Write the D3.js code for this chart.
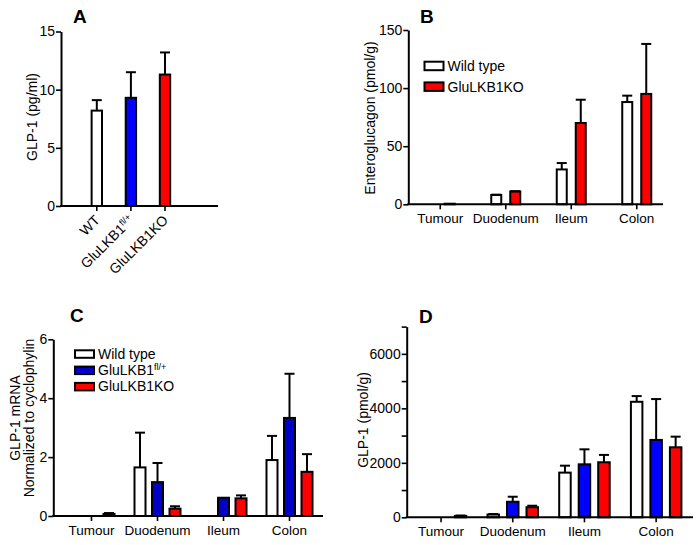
<!DOCTYPE html>
<html><head><meta charset="utf-8">
<script src="https://cdn.jsdelivr.net/npm/d3@7"></script>
<style>body{margin:0;background:#fff}</style>
</head><body>
<svg id="chart" width="700" height="545" xmlns="http://www.w3.org/2000/svg"></svg>
<script>
// ---------- DATA ----------
const groupsA = ["WT", "GluLKB1fl/+", "GluLKB1KO"];
const meanA = [8.2, 9.3, 11.3];
const semA = [0.9, 2.2, 1.9];
const ticksA = [0, 5, 10, 15];

const tissues = ["Tumour", "Duodenum", "Ileum", "Colon"];

const seriesB = ["Wild type", "GluLKB1KO"];
const wtB = [0, 8, 30, 88];
const wtBsem = [0, 0.3, 5.5, 5.5];
const koB = [0.5, 11, 70, 95];
const koBsem = [0, 0.3, 20, 43];
const ticksB = [0, 50, 100, 150];

const seriesC = ["Wild type", "GluLKB1fl/+", "GluLKB1KO"];
const wtC = [0, 1.65, 0, 1.9];
const wtCsem = [0, 1.18, 0, 0.82];
const flC = [0, 1.15, 0.62, 3.33];
const flCsem = [0, 0.65, 0, 1.5];
const koC = [0.07, 0.25, 0.6, 1.5];
const koCsem = [0.03, 0.08, 0.1, 0.6];
const ticksC = [0, 2, 4, 6];

const wtD = [0, 100, 1640, 4240];
const wtDsem = [0, 20, 255, 210];
const flD = [0, 570, 1945, 2840];
const flDsem = [0, 185, 550, 1500];
const koD = [50, 370, 2020, 2570];
const koDsem = [15, 55, 270, 390];
const ticksD = [0, 1000, 2000, 3000, 4000, 5000, 6000, 7000];
const labelsD = [0, 2000, 4000, 6000];

// ---------- STYLE ----------
const FONT = "'Liberation Sans', Arial, sans-serif";
const WHITE = "#ffffff", BLUE = "#0000ff", DBLUE = "#0000c8", RED = "#ff0000";

const svg = d3.select("#chart");
svg.append("rect").attr("width", 700).attr("height", 545).attr("fill", "#fff");

function yAxis(g, y, x0, ticks, labels) {
  const ax = d3.axisLeft(y).tickValues(ticks).tickSize(5).tickSizeOuter(0).tickPadding(1)
    .tickFormat(d => (labels ? (labels.includes(d) ? d : "") : d));
  const a = g.append("g").attr("transform", `translate(${x0},0)`).call(ax);
  a.select(".domain").attr("stroke-width", 2).attr("stroke", "#000");
  a.selectAll(".tick line").attr("stroke-width", 1.6);
  a.selectAll("text").attr("font-family", FONT).attr("font-size", 14).attr("fill", "#000");
}

function xAxis(g, xc, groups, yBase, x0, x1, withLabels) {
  g.append("line").attr("x1", x0 - 1).attr("x2", x1).attr("y1", yBase).attr("y2", yBase)
    .attr("stroke", "#000").attr("stroke-width", 2);
  g.selectAll(null).data(groups).join("line")
    .attr("x1", d => xc(d)).attr("x2", d => xc(d))
    .attr("y1", yBase).attr("y2", yBase + 5)
    .attr("stroke", "#000").attr("stroke-width", 1.6);
  if (withLabels) {
    g.selectAll(null).data(groups).join("text")
      .attr("x", d => xc(d)).attr("y", yBase + 19)
      .attr("text-anchor", "middle").attr("font-family", FONT).attr("font-size", 13.5)
      .text(d => d);
  }
}

function bars(g, items, y) {
  // items: {x, w, v, e, fill}
  g.selectAll(null).data(items).join("rect")
    .attr("x", d => d.x + 1).attr("width", d => d.w - 2)
    .attr("y", d => y(d.v)).attr("height", d => Math.max(0, y(0) - y(d.v)))
    .attr("fill", d => d.fill).attr("stroke", "#000").attr("stroke-width", 2);
  const eb = items.filter(d => d.e > 0);
  g.selectAll(null).data(eb).join("line")
    .attr("x1", d => d.x + d.w / 2).attr("x2", d => d.x + d.w / 2)
    .attr("y1", d => y(d.v)).attr("y2", d => y(d.v + d.e))
    .attr("stroke", "#000").attr("stroke-width", 2);
  g.selectAll(null).data(eb).join("line")
    .attr("x1", d => d.x + d.w / 2 - 5).attr("x2", d => d.x + d.w / 2 + 5)
    .attr("y1", d => y(d.v + d.e)).attr("y2", d => y(d.v + d.e))
    .attr("stroke", "#000").attr("stroke-width", 2);
}

function title(txt, x, y) {
  svg.append("text").attr("x", x).attr("y", y).attr("font-family", FONT)
    .attr("font-size", 19).attr("font-weight", "bold").text(txt);
}

function yLabel(lines, x, y, lh) {
  const t = svg.append("text").attr("transform", `translate(${x},${y}) rotate(-90)`)
    .attr("text-anchor", "middle").attr("font-family", FONT).attr("font-size", 14);
  lines.forEach((l, i) => t.append("tspan").attr("x", 0).attr("dy", i === 0 ? 0 : lh).text(l));
}

function legend(items, x, y, step, bw, bh) {
  const g = svg.append("g");
  items.forEach((it, i) => {
    g.append("rect").attr("x", x + 1).attr("y", y + i * step + 1).attr("width", bw - 2).attr("height", bh - 2)
      .attr("fill", it.fill).attr("stroke", "#000").attr("stroke-width", 2);
    const t = g.append("text").attr("x", x + bw + 3).attr("y", y + i * step + bh)
      .attr("font-family", FONT).attr("font-size", 14);
    addLabel(t, it.name);
  });
}

function addLabel(t, name) {
  if (name.endsWith("fl/+")) {
    t.append("tspan").text(name.replace("fl/+", ""));
    t.append("tspan").attr("font-size", 9).attr("dy", -5).text("fl/+");
  } else t.text(name);
}

function grouped(g, groups, range, nSeries, barStep, barW) {
  const xg = d3.scaleBand().domain(groups).range(range).padding(0);
  const p = 1 - barW / barStep;
  const xs = d3.scaleBand().domain(d3.range(nSeries))
    .range([-nSeries * barStep / 2, nSeries * barStep / 2]).paddingInner(p).paddingOuter(p / 2);
  const center = d => xg(d) + xg.bandwidth() / 2;
  return { center, xs };
}

// ---------- PANEL A ----------
{
  const g = svg.append("g");
  const y = d3.scaleLinear().domain([0, 15]).range([206, 31.5]);
  const x = d3.scaleBand().domain(groupsA).range([68.9, 192.9]).padding(0.637);
  const fills = [WHITE, BLUE, RED];
  bars(g, groupsA.map((d, i) => ({ x: x(d), w: x.bandwidth(), v: meanA[i], e: semA[i], fill: fills[i] })), y);
  const xc = d => x(d) + x.bandwidth() / 2;
  xAxis(g, xc, groupsA, 206, 61, 218, false);
  yAxis(g, y, 61, ticksA);
  groupsA.forEach(d => {
    const t = g.append("text")
      .attr("transform", `translate(${xc(d) + 4},${206 + 15}) rotate(-45)`)
      .attr("text-anchor", "end").attr("font-family", FONT).attr("font-size", 14);
    addLabel(t, d);
  });
  yLabel(["GLP-1 (pg/ml)"], 37, 117, 0);
  title("A", 73, 23);
}

// ---------- PANEL B ----------
{
  const g = svg.append("g");
  const y = d3.scaleLinear().domain([0, 150]).range([204.3, 30]);
  const { center, xs } = grouped(g, tissues, [407.5, 669.5], 2, 19, 12);
  const fills = [WHITE, RED];
  const vals = [wtB, koB], sems = [wtBsem, koBsem];
  const items = [];
  tissues.forEach((t, j) => vals.forEach((v, i) => items.push({
    x: center(t) + xs(i), w: xs.bandwidth(), v: v[j], e: sems[i][j], fill: fills[i] })));
  bars(g, items, y);
  xAxis(g, center, tissues, 204.3, 408.3, 663, true);
  yAxis(g, y, 408.3, ticksB);
  yLabel(["Enteroglucagon (pmol/g)"], 375, 118, 0);
  legend(seriesB.map((s, i) => ({ name: s, fill: fills[i] })), 423.5, 60.7, 20.7, 21, 10.5);
  title("B", 420, 23);
}

// ---------- PANEL C ----------
{
  const g = svg.append("g");
  const y = d3.scaleLinear().domain([0, 6]).range([516, 339.3]);
  const { center, xs } = grouped(g, tissues, [58.5, 322.5], 3, 17.5, 13);
  const fills = [WHITE, DBLUE, RED];
  const vals = [wtC, flC, koC], sems = [wtCsem, flCsem, koCsem];
  const items = [];
  tissues.forEach((t, j) => vals.forEach((v, i) => items.push({
    x: center(t) + xs(i), w: xs.bandwidth(), v: v[j], e: sems[i][j], fill: fills[i] })));
  bars(g, items, y);
  xAxis(g, center, tissues, 516, 53.3, 323, true);
  yAxis(g, y, 53.3, ticksC);
  yLabel(["GLP-1 mRNA", "Normalized to cyclophylin"], 20, 418, 13.5);
  legend(seriesC.map((s, i) => ({ name: s, fill: fills[i] })), 74, 349.3, 16.3, 21, 9.5);
  title("C", 70, 322);
}

// ---------- PANEL D ----------
{
  const g = svg.append("g");
  const y = d3.scaleLinear().domain([0, 7000]).range([517.3, 326.6]);
  const { center, xs } = grouped(g, tissues, [405.2, 692], 3, 19.5, 13.5);
  const fills = [WHITE, BLUE, RED];
  const vals = [wtD, flD, koD], sems = [wtDsem, flDsem, koDsem];
  const items = [];
  tissues.forEach((t, j) => vals.forEach((v, i) => items.push({
    x: center(t) + xs(i), w: xs.bandwidth(), v: v[j], e: sems[i][j], fill: fills[i] })));
  bars(g, items, y);
  xAxis(g, center, tissues, 517.3, 406.7, 693, true);
  yAxis(g, y, 406.7, ticksD, labelsD);
  yLabel(["GLP-1  (pmol/g)"], 368, 420, 0);
  title("D", 419, 323);
}
</script>
</body></html>
